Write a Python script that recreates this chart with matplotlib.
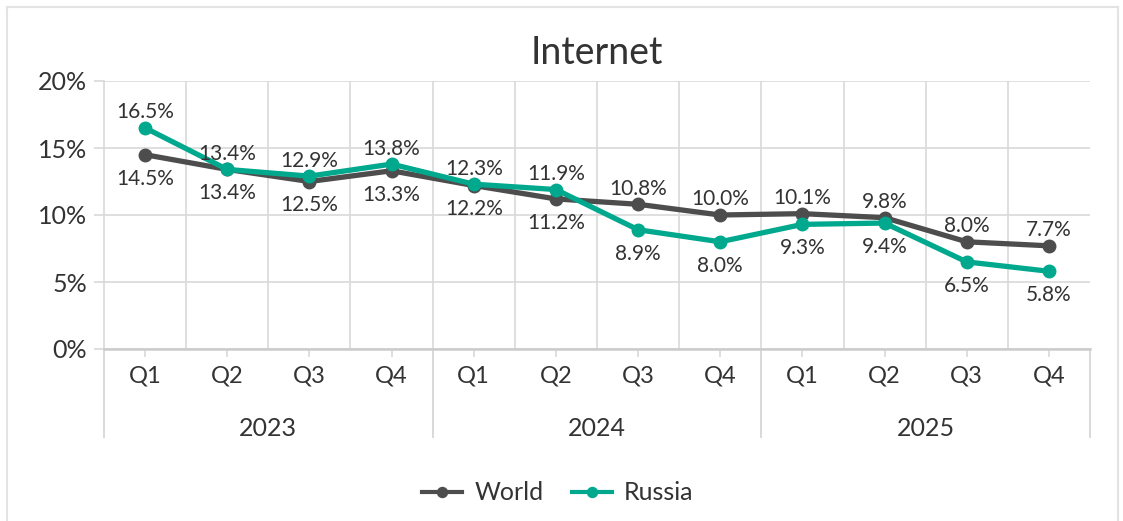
import matplotlib
matplotlib.use("Agg")
import matplotlib.pyplot as plt
import matplotlib.transforms as mtransforms
from matplotlib.lines import Line2D

plt.rcParams['font.family'] = ['Lato', 'DejaVu Sans']

# data
quarters = ['Q1', 'Q2', 'Q3', 'Q4'] * 3
years = ['2023', '2024', '2025']
world = [14.5, 13.4, 12.5, 13.3, 12.2, 11.2, 10.8, 10.0, 10.1, 9.8, 8.0, 7.7]
russia = [16.5, 13.4, 12.9, 13.8, 12.3, 11.9, 8.9, 8.0, 9.3, 9.4, 6.5, 5.8]
yticks = [0, 5, 10, 15, 20]

text_col = '#333333'
grid_col = '#d9d9d9'
world_col = '#4d4d4d'
russia_col = '#00a88e'

fig = plt.figure(figsize=(11.23, 5.21), dpi=100)
ax = fig.add_axes([104 / 1123, 1 - 349 / 521, 986 / 1123, 268 / 521])

x = list(range(len(quarters)))
ax.plot(x, world, color=world_col, lw=3.8, marker='o', ms=9, label='World', zorder=3)
ax.plot(x, russia, color=russia_col, lw=3.8, marker='o', ms=9, label='Russia', zorder=4)

# data labels: higher series above, lower below
for i in x:
    for vals, other in ((world, russia), (russia, world)):
        v = vals[i]
        above = v > other[i] or (v == other[i] and vals is russia)
        ax.annotate(f'{v:.1f}%', (i, v), xytext=(0, 4 if above else -10),
                    textcoords='offset points', ha='center',
                    va='bottom' if above else 'top', fontsize=15,
                    color=text_col, zorder=5)

ax.set_xlim(-0.5, len(x) - 0.5)
ax.set_ylim(0, 20)
ax.set_yticks(yticks)
ax.set_yticklabels([f'{t}%' for t in yticks])
ax.set_xticks(x)
ax.set_xticklabels(quarters)
ax.set_xticks([i + 0.5 for i in x[:-1]], minor=True)
ax.tick_params(axis='x', which='minor', length=0)
ax.tick_params(axis='x', which='major', length=6, width=1.2, color=grid_col,
               pad=6, labelsize=17, labelcolor=text_col)
ax.tick_params(axis='y', length=7, width=1.2, color=grid_col, pad=5,
               labelsize=18, labelcolor=text_col)
ax.grid(axis='y', color=grid_col, lw=1.2)
ax.grid(axis='x', which='minor', color=grid_col, lw=1.2)
ax.set_axisbelow(True)
for s in ('top', 'right'):
    ax.spines[s].set_visible(False)
ax.spines['left'].set_color(grid_col)
ax.spines['left'].set_linewidth(1.2)
ax.spines['bottom'].set_color('#cccccc')
ax.spines['bottom'].set_linewidth(1.8)

# year grouping row under the quarters
trans = mtransforms.blended_transform_factory(ax.transData, ax.transAxes)
low = -88 / 268
for k, yr in enumerate(years):
    ax.text(4 * k + 1.5, -79 / 268, yr, transform=trans, ha='center', va='center',
            fontsize=18, color=text_col)
for b in range(len(years) + 1):
    xb = 4 * b - 0.5
    ax.plot([xb, xb], [0, low], transform=trans, color=grid_col, lw=1.4,
            clip_on=False)

ax.set_title('Internet', fontsize=27, color=text_col, pad=12)

ax.legend(loc='center', bbox_to_anchor=(558 / 1123, 1 - 493 / 521),
          bbox_transform=fig.transFigure, ncol=2, frameon=False, fontsize=18,
          labelcolor=text_col, handlelength=1.6, columnspacing=1.1,
          handletextpad=0.5, markerscale=0.8)
for h in ax.get_legend().get_lines():
    h.set_linewidth(3)

# outer border
bc = '#e3e3e3'
x0, x1, y0 = 7 / 1123, 1118 / 1123, 1 - 7 / 521
for xs, ys in (([x0, x0], [0, y0]), ([x0, x1], [y0, y0]), ([x1, x1], [y0, 0])):
    fig.add_artist(Line2D(xs, ys, transform=fig.transFigure, color=bc, lw=1.5))

fig.savefig('out.png', dpi=100)
